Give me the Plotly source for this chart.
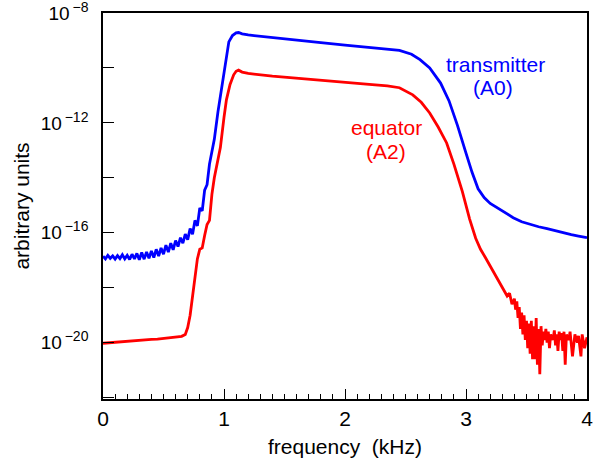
import plotly.graph_objects as go

# Transmitter (A0) — frequency (kHz) and log10 amplitude
tx_freq = [0.00, 0.02, 0.04, 0.06, 0.08, 0.10, 0.12, 0.14, 0.16, 0.18, 0.20, 0.22, 0.24, 0.26,
           0.28, 0.30, 0.32, 0.34, 0.36, 0.38, 0.40, 0.42, 0.44, 0.46, 0.48, 0.50, 0.52, 0.54,
           0.56, 0.58, 0.60, 0.62, 0.64, 0.66, 0.68, 0.70, 0.72, 0.74, 0.76, 0.78, 0.80, 0.82,
           0.84, 0.86, 0.88, 0.90, 0.92, 0.95, 0.98, 1.01, 1.04, 1.07, 1.10, 1.12, 1.15, 1.20,
           1.40, 1.60, 1.80, 2.00, 2.20, 2.35, 2.45, 2.55, 2.62, 2.70, 2.79, 2.86, 2.93, 3.00,
           3.05, 3.10, 3.15, 3.20, 3.26, 3.32, 3.39, 3.46, 3.53, 3.60, 3.67, 3.74, 3.80, 3.87,
           3.93, 4.00]
tx_log = [-16.85, -16.95, -16.82, -16.93, -16.84, -16.96, -16.83, -16.94, -16.80, -16.95, -16.82,
          -16.97, -16.78, -16.95, -16.75, -16.98, -16.72, -16.96, -16.70, -16.93, -16.66, -16.90,
          -16.60, -16.85, -16.55, -16.78, -16.45, -16.70, -16.38, -16.62, -16.28, -16.50, -16.18,
          -16.38, -16.05, -16.25, -15.85, -16.05, -15.55, -15.75, -15.10, -15.20, -14.45, -14.25,
          -13.50, -13.10, -12.60, -11.60, -10.80, -9.90, -9.05, -8.82, -8.72, -8.71, -8.76, -8.80,
          -8.90, -8.99, -9.08, -9.17, -9.25, -9.30, -9.36, -9.50, -9.70, -10.00, -10.55, -11.20,
          -12.10, -13.10, -13.80, -14.40, -14.72, -14.93, -15.10, -15.28, -15.45, -15.60, -15.70,
          -15.78, -15.85, -15.93, -16.00, -16.07, -16.12, -16.18]

# Equator (A2) — frequency (kHz) and log10 amplitude
eq_freq = [0.00, 0.05, 0.10, 0.15, 0.20, 0.25, 0.30, 0.35, 0.40, 0.45, 0.50, 0.55, 0.60, 0.65,
           0.68, 0.70, 0.72, 0.74, 0.76, 0.78, 0.80, 0.82, 0.84, 0.86, 0.88, 0.90, 0.92, 0.94,
           0.97, 1.00, 1.02, 1.05, 1.08, 1.10, 1.12, 1.15, 1.20, 1.40, 1.60, 1.80, 2.00, 2.20,
           2.35, 2.45, 2.56, 2.63, 2.70, 2.77, 2.84, 2.90, 2.97, 3.03, 3.08, 3.12, 3.16, 3.20,
           3.23, 3.26, 3.30, 3.34, 3.36, 3.38, 3.40, 3.41, 3.42, 3.43, 3.44, 3.45, 3.46, 3.47,
           3.48, 3.49, 3.50, 3.51, 3.52, 3.53, 3.54, 3.55, 3.56, 3.57, 3.58, 3.59, 3.60, 3.61,
           3.62, 3.63, 3.64, 3.65, 3.66, 3.67, 3.68, 3.69, 3.70, 3.72, 3.73, 3.74, 3.75, 3.76,
           3.77, 3.78, 3.79, 3.80, 3.81, 3.82, 3.83, 3.85, 3.86, 3.88, 3.90, 3.92, 3.93, 3.95,
           3.96, 3.98, 4.00]
eq_log = [-20.02, -20.00, -19.98, -19.97, -19.95, -19.94, -19.92, -19.90, -19.88, -19.87, -19.84,
          -19.82, -19.80, -19.77, -19.70, -19.45, -19.00, -18.30, -17.60, -16.95, -16.60, -16.55,
          -16.10, -15.70, -15.55, -14.60, -14.00, -13.60, -12.90, -11.80, -11.16, -10.60, -10.25,
          -10.12, -10.08, -10.15, -10.20, -10.30, -10.38, -10.46, -10.53, -10.60, -10.65, -10.72,
          -10.98, -11.25, -11.64, -12.15, -12.73, -13.50, -14.50, -15.50, -16.20, -16.60, -16.90,
          -17.20, -17.45, -17.65, -17.95, -18.30, -18.20, -18.60, -18.40, -18.80, -18.50, -19.10,
          -18.70, -19.50, -18.90, -19.70, -19.00, -19.90, -19.20, -20.20, -19.30, -20.40, -19.20,
          -20.60, -19.40, -20.60, -19.10, -20.80, -19.50, -21.15, -19.40, -20.10, -19.60, -19.90,
          -19.50, -20.00, -19.60, -20.20, -19.70, -19.90, -19.55, -20.10, -19.70, -20.30, -19.60,
          -19.90, -19.65, -20.30, -19.60, -20.80, -19.70, -19.90, -19.60, -20.50, -19.70, -20.00,
          -19.75, -20.50, -19.70, -20.20, -19.80]

y_tickvals_exp = [-8, -10, -12, -14, -16, -18, -20, -22]
y_tick_exps_labelled = ["\u22128", "", "\u221212", "", "\u221216", "", "\u221220", ""]
x_tickvals = [0, 1, 2, 3, 4]

# series labels: text, x (kHz), y (log10), colour
labels = [("transmitter", 3.24, -9.86, "#0000ff"),
          ("(A0)", 3.225, -10.70, "#0000ff"),
          ("equator", 2.34, -12.15, "#ff0000"),
          ("(A2)", 2.34, -13.05, "#ff0000")]

FONT = "Liberation Sans, Arial, sans-serif"

y_ticktext = [("10<sup><span style='font-size:14px'>\u2009" + e + "</span></sup>") if e else ""
              for e in y_tick_exps_labelled]

fig = go.Figure()
fig.add_trace(go.Scatter(x=tx_freq, y=[10 ** v for v in tx_log], mode="lines",
                         line=dict(color="#0000ff", width=2.8), name="transmitter (A0)"))
fig.add_trace(go.Scatter(x=eq_freq, y=[10 ** v for v in eq_log], mode="lines",
                         line=dict(color="#ff0000", width=2.8), name="equator (A2)"))

for txt, lx, ly, col in labels:
    fig.add_annotation(x=lx, y=ly, xref="x", yref="y", text=txt, showarrow=False,
                       font=dict(color=col, size=21, family=FONT))

fig.update_layout(
    width=593, height=461,
    margin=dict(l=103, r=6, t=13, b=62),
    paper_bgcolor="white", plot_bgcolor="white",
    showlegend=False,
    font=dict(family=FONT, color="black", size=18),
)
fig.update_xaxes(
    range=[0, 4], tickvals=x_tickvals, ticks="inside", ticklen=10, tickwidth=1.4,
    tickcolor="black", showline=True, linecolor="black", linewidth=1.5, mirror=True,
    showgrid=False, zeroline=False, automargin=False, ticklabeloverflow="allow",
    minor=dict(dtick=0.1, ticks="inside", ticklen=5, tickwidth=1.1, tickcolor="black"),
    title=dict(text="frequency  (kHz)", font=dict(size=21), standoff=10),
    tickfont=dict(size=21),
)
fig.update_yaxes(
    type="log", range=[-22.05, -8],
    tickvals=[10 ** e for e in y_tickvals_exp], ticktext=y_ticktext,
    ticks="inside", ticklen=11, tickwidth=1.4, tickcolor="black",
    showline=True, linecolor="black", linewidth=1.5, mirror=True,
    showgrid=False, zeroline=False, ticklabelstandoff=9, automargin=False,
    ticklabeloverflow="allow",
    title=dict(text="arbitrary units", font=dict(size=21), standoff=5),
    tickfont=dict(size=19),
)

fig.write_html("out.html")
